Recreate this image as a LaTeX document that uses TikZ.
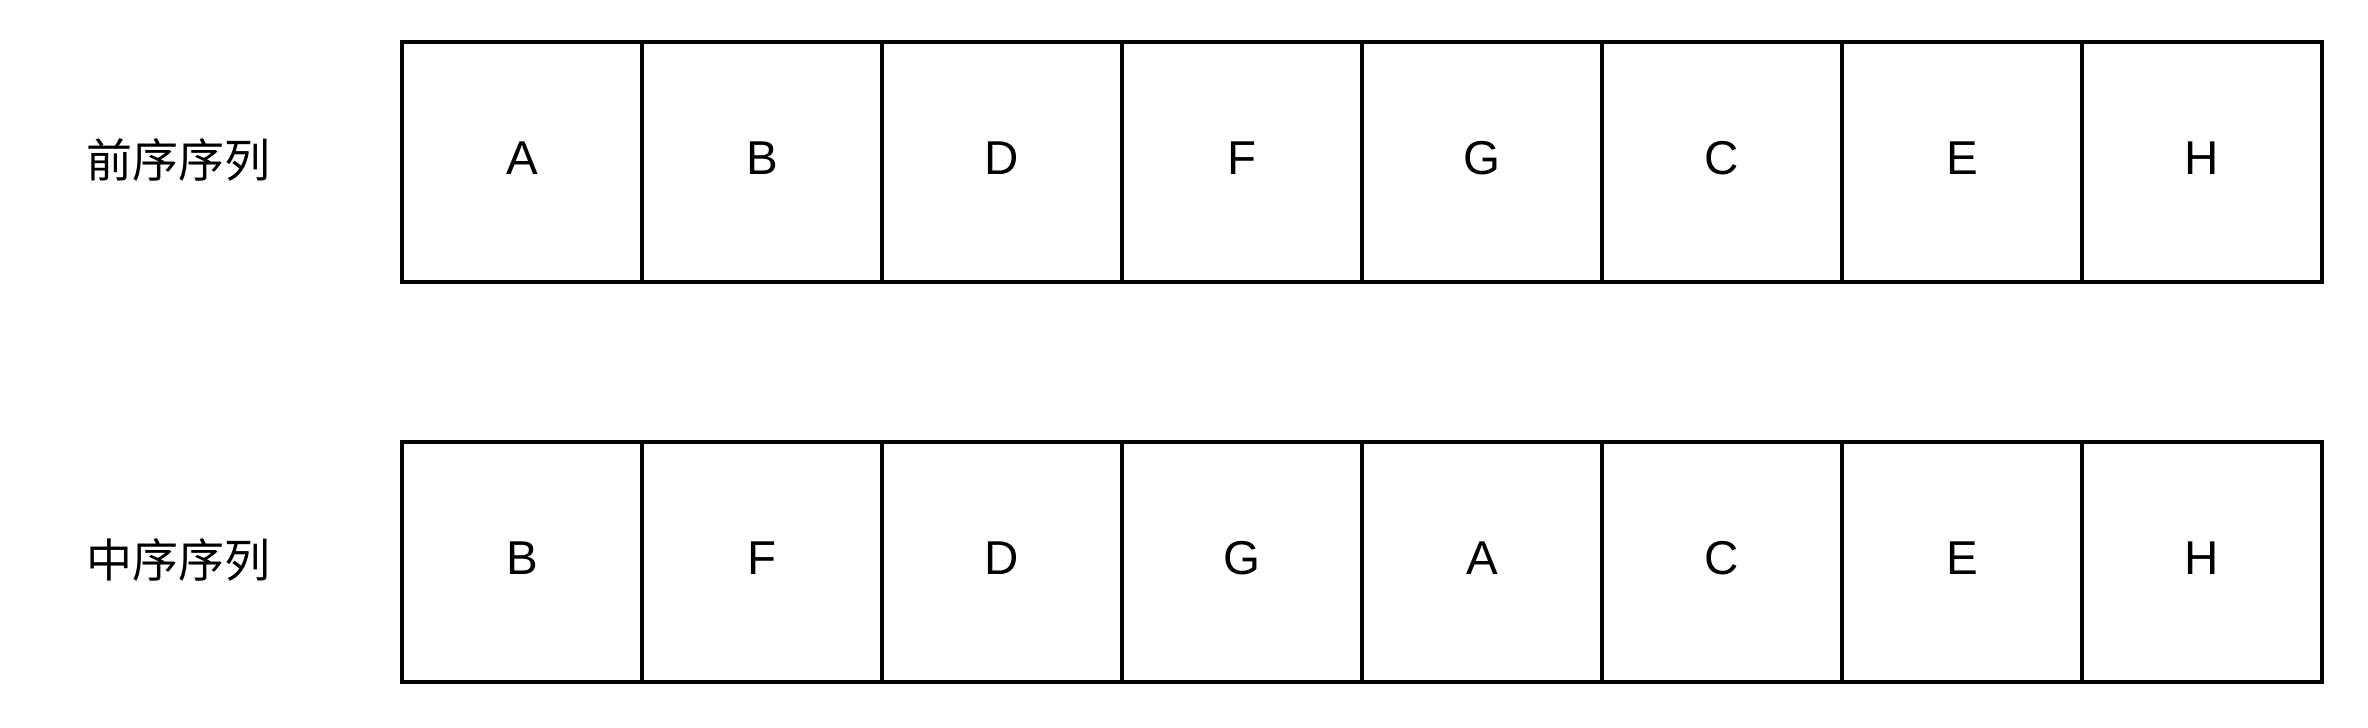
\documentclass[tikz,border=0pt]{standalone}
\usepackage{fontspec}
\setmainfont{Liberation Sans}
\newfontfamily\cjk{Noto Sans CJK SC}
\usetikzlibrary{positioning}
\begin{document}
\begin{tikzpicture}[
        x=0.5pt, y=0.5pt,
        cell/.style={draw=black, line width=2pt, minimum width=120pt, minimum height=120pt,
            inner sep=0pt, outer sep=0pt, text depth=4pt, font=\fontsize{23.75}{28}\selectfont},
        rowlabel/.style={font=\cjk\fontsize{23}{28}\selectfont},
    ]
    \useasboundingbox (0, 0) rectangle (2368, 728);
    % preorder row
    \node[rowlabel] (prelabel) at (178, 568) {前序序列};
    \node[cell] (pre1) at (522, 566) {A};
    \node[cell, right=0pt of pre1] (pre2) {B};
    \node[cell, right=0pt of pre2] (pre3) {D};
    \node[cell, right=0pt of pre3] (pre4) {F};
    \node[cell, right=0pt of pre4] (pre5) {G};
    \node[cell, right=0pt of pre5] (pre6) {C};
    \node[cell, right=0pt of pre6] (pre7) {E};
    \node[cell, right=0pt of pre7] (pre8) {H};
    % inorder row
    \node[rowlabel] (inlabel) at (178, 168) {中序序列};
    \node[cell] (in1) at (522, 166) {B};
    \node[cell, right=0pt of in1] (in2) {F};
    \node[cell, right=0pt of in2] (in3) {D};
    \node[cell, right=0pt of in3] (in4) {G};
    \node[cell, right=0pt of in4] (in5) {A};
    \node[cell, right=0pt of in5] (in6) {C};
    \node[cell, right=0pt of in6] (in7) {E};
    \node[cell, right=0pt of in7] (in8) {H};
\end{tikzpicture}
\end{document}
